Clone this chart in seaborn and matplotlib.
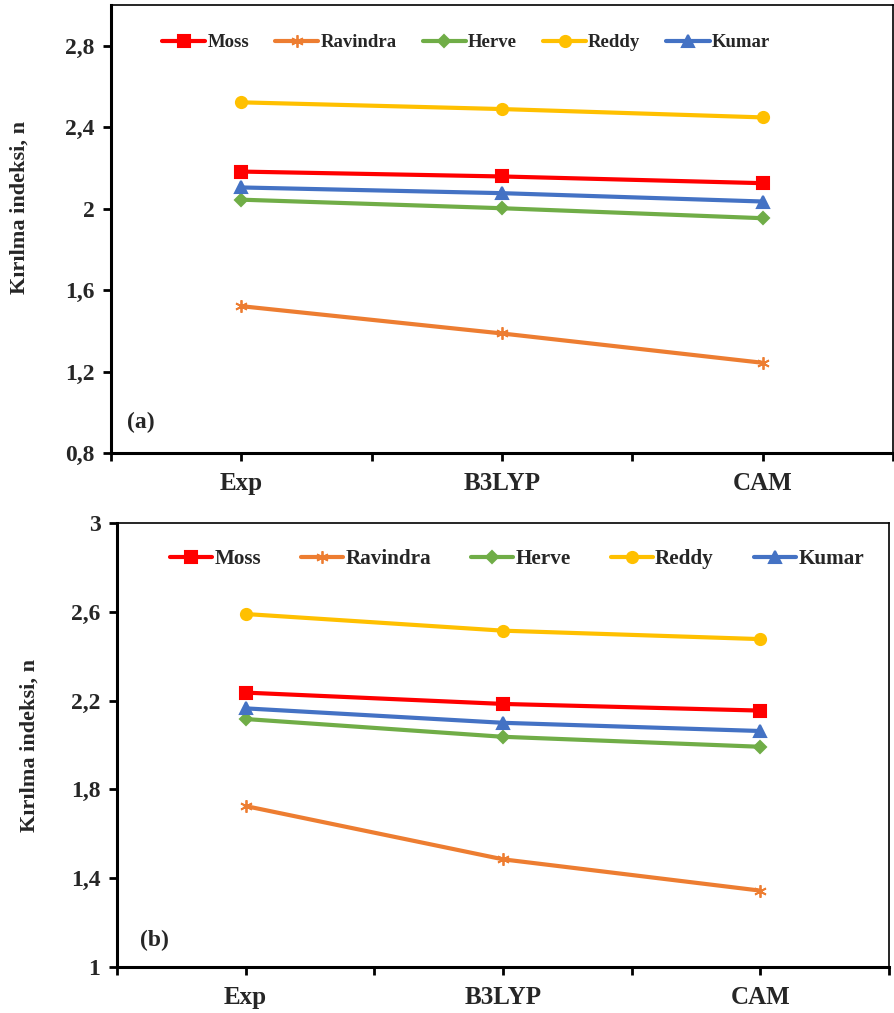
import matplotlib
matplotlib.use("Agg")
import matplotlib.pyplot as plt
import seaborn as sns
import pandas as pd
from matplotlib.ticker import FixedLocator

sns.set_theme(style="white")
plt.rcParams['font.family'] = ['Liberation Serif', 'DejaVu Serif']
plt.rcParams['font.weight'] = 'bold'

methods = ["Exp", "B3LYP", "CAM"]
series = ["Moss", "Ravindra", "Herve", "Reddy", "Kumar"]

# panel (a)
a_moss = [2.182, 2.158, 2.125]
a_ravindra = [1.521, 1.387, 1.243]
a_herve = [2.044, 2.002, 1.953]
a_reddy = [2.522, 2.489, 2.448]
a_kumar = [2.104, 2.076, 2.035]

# panel (b)
b_moss = [2.236, 2.185, 2.155]
b_ravindra = [1.725, 1.485, 1.344]
b_herve = [2.117, 2.037, 1.992]
b_reddy = [2.590, 2.515, 2.477]
b_kumar = [2.165, 2.100, 2.063]

a_yticks = [0.8, 1.2, 1.6, 2.0, 2.4, 2.8]
a_ylabels = ["0,8", "1,2", "1,6", "2", "2,4", "2,8"]
b_yticks = [1.0, 1.4, 1.8, 2.2, 2.6, 3.0]
b_ylabels = ["1", "1,4", "1,8", "2,2", "2,6", "3"]

colors = {"Moss": "#FF0000", "Ravindra": "#ED7D31", "Herve": "#70AD47",
          "Reddy": "#FFC000", "Kumar": "#4472C4"}
markers = {"Moss": "s", "Ravindra": (6, 2, 0), "Herve": "D",
           "Reddy": "o", "Kumar": "^"}
msizes = {"Moss": 8, "Ravindra": 9, "Herve": 6, "Reddy": 8, "Kumar": 8}


def make_df(vals):
    rows = []
    for s, v in zip(series, vals):
        for m, y in zip(methods, v):
            rows.append({"method": m, "series": s, "value": y})
    return pd.DataFrame(rows)


df_a = make_df([a_moss, a_ravindra, a_herve, a_reddy, a_kumar])
df_b = make_df([b_moss, b_ravindra, b_herve, b_reddy, b_kumar])

fig = plt.figure(figsize=(8.94, 10.13), dpi=100)
W, H = 894, 1013
ax1 = fig.add_axes([111 / W, 1 - 453 / H, 782 / W, 448 / H])
ax2 = fig.add_axes([117 / W, 1 - 967 / H, 772 / W, 444 / H])


def draw(ax, df, ylim, yticks, ylabels, tag, tagpos, leg):
    for s in series:
        sub = df[df.series == s]
        sns.lineplot(data=sub, x="method", y="value", ax=ax, color=colors[s],
                     marker=markers[s], markersize=msizes[s], linewidth=3,
                     markeredgecolor=colors[s], markeredgewidth=1.5 if s != "Ravindra" else 1.3,
                     label=s, sort=False)
    ax.set_xlim(-0.5, 2.5)
    ax.set_ylim(*ylim)
    ax.xaxis.set_major_locator(FixedLocator([0, 1, 2]))
    ax.set_xticklabels(methods, fontsize=18, fontweight="bold")
    ax.xaxis.set_minor_locator(FixedLocator([-0.5, 0.5, 1.5, 2.5]))
    ax.set_yticks(yticks)
    ax.set_yticklabels(ylabels, fontsize=17, fontweight="bold")
    ax.tick_params(axis="x", which="both", direction="out", length=6, width=2,
                   bottom=True, pad=8, color="black")
    ax.tick_params(axis="y", direction="out", length=6, width=2, left=True,
                   pad=6, color="black")
    ax.set_xlabel("")
    ax.set_ylabel("")
    for side in ["left", "bottom"]:
        ax.spines[side].set_linewidth(2.2)
        ax.spines[side].set_color("black")
    for side in ["top", "right"]:
        ax.spines[side].set_linewidth(1.2)
        ax.spines[side].set_color("black")
    ax.text(tagpos[0], tagpos[1], tag, transform=ax.transAxes, fontsize=17,
            fontweight="bold", va="center", ha="left")
    lx, ly, fs, hl, cs = leg
    ax.legend(loc="center", bbox_to_anchor=(lx, ly), ncol=5, frameon=False,
              prop={"size": fs, "weight": "bold"}, handlelength=hl,
              handletextpad=0.1, columnspacing=cs)


draw(ax1, df_a, (0.8, 3.0), a_yticks, a_ylabels, "(a)", (0.02, 0.068),
     (0.454, 0.916, 13.5, 2.3, 1.4))
draw(ax2, df_b, (1.0, 3.0), b_yticks, b_ylabels, "(b)", (0.03, 0.06),
     (0.518, 0.918, 15.2, 2.0, 1.9))

fig.text(20 / W, 1 - 208 / H, "Kırılma indeksi, n", rotation=90, fontsize=16,
         fontweight="bold", ha="center", va="center")
fig.text(30 / W, 1 - 745 / H, "Kırılma indeksi, n", rotation=90, fontsize=16,
         fontweight="bold", ha="center", va="center")

fig.savefig("out.png", dpi=100)
